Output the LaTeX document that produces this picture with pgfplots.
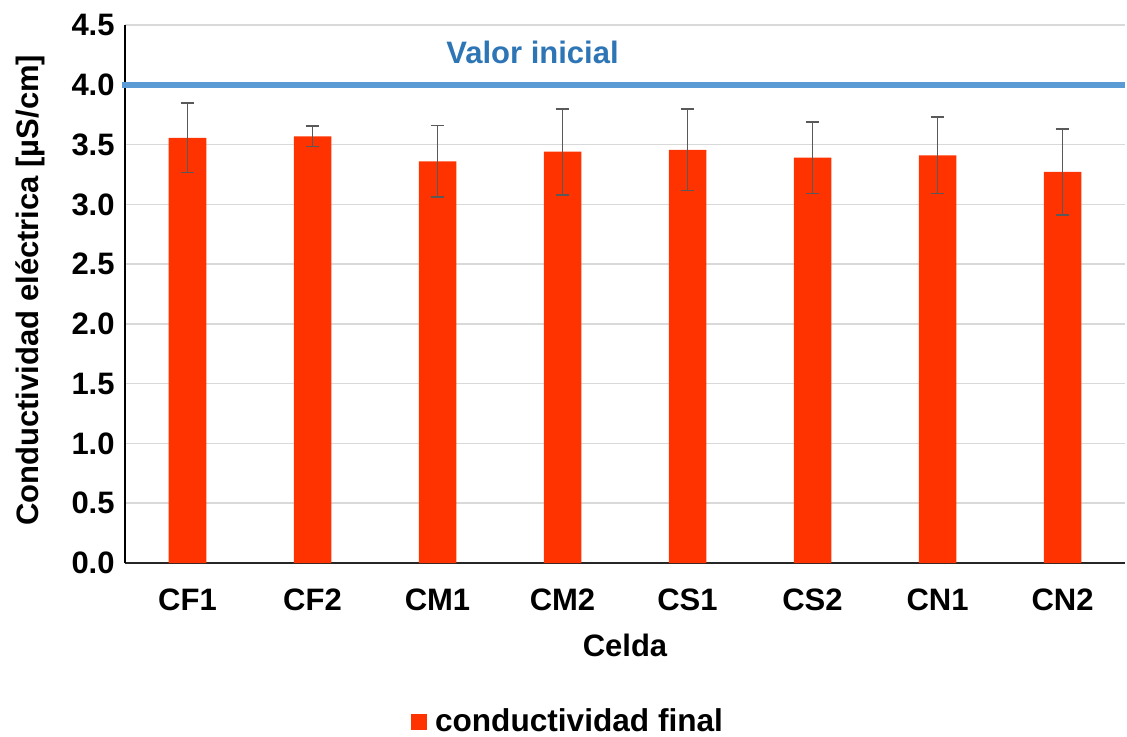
\documentclass[border=0pt]{standalone}
\usepackage{pgfplots}
\pgfplotsset{compat=1.18}
\usepackage{fontspec}
\setmainfont{Liberation Sans}
\definecolor{barred}{RGB}{255,51,0}
\definecolor{lineblue}{RGB}{91,155,213}
\definecolor{textblue}{RGB}{46,117,182}
\definecolor{gridgray}{RGB}{217,217,217}
\definecolor{errgray}{RGB}{89,89,89}
\newcommand{\chartfont}{\bfseries\fontsize{15.5}{18}\selectfont}
\pgfplotstableread{
x y err
0 3.556 0.29
1 3.569 0.084
2 3.36 0.30
3 3.44 0.36
4 3.456 0.34
5 3.39 0.30
6 3.41 0.32
7 3.272 0.36
}\datatable
\begin{document}
\begin{tikzpicture}
\path[use as bounding box] (-62.5pt,-86.5pt) rectangle (501pt,281.5pt);
\begin{axis}[
  at={(0,0)}, anchor=south west,
  scale only axis, width=500pt, height=269pt,
  xmin=-0.5, xmax=7.5, ymin=0, ymax=4.5,
  xtick={0,1,2,3,4,5,6,7},
  xticklabels={CF1,CF2,CM1,CM2,CS1,CS2,CN1,CN2},
  ytick={0,0.5,1,1.5,2,2.5,3,3.5,4,4.5},
  /pgf/number format/assume math mode=true,
  yticklabel style={/pgf/number format/fixed, /pgf/number format/fixed zerofill, /pgf/number format/precision=1, anchor=east, inner sep=0pt, xshift=-5pt},
  ticklabel style={font=\chartfont},
  xticklabel style={anchor=center, yshift=-18.5pt},
  major tick length=0pt,
  axis x line*=bottom, axis y line*=left,
  x axis line style={line width=0.9pt, color=black!85},
  y axis line style={line width=0.8pt, color=black},
  ymajorgrids, grid style={line width=0.75pt, color=gridgray},
  xlabel={Celda},
  xlabel style={font=\chartfont, at={(axis description cs:0.5,-0.154)}, anchor=center},
  ylabel={Conductividad eléctrica [µS/cm]},
  ylabel style={font=\chartfont, at={(axis description cs:-0.095,0.507)}, anchor=center},
  legend style={at={(axis description cs:0.444,-0.2955)}, anchor=center, draw=none, fill=none, font=\bfseries\fontsize{15.8}{18}\selectfont, inner sep=0pt},
  legend cell align=left,
  clip=false,
]
\addplot[ybar, bar width=0.3, fill=barred, draw=none,
  legend image code/.code={\fill[barred] (0pt,-4pt) rectangle (8pt,4pt); \path (10pt,0pt);},
  error bars/.cd, y dir=both, y explicit,
  error bar style={line width=0.75pt, color=errgray},
  error mark=-,
  error mark options={rotate=90, mark size=3.4pt, line width=0.8pt, color=errgray},
  ] table[x=x, y=y, y error=err] {\datatable};
\addlegendentry{conductividad final}
\addplot[sharp plot, line width=2.75pt, color=lineblue, forget plot] coordinates {(-0.52,4) (7.5,4)};
\node[font=\chartfont, text=textblue, anchor=center] at (axis cs:2.76,4.27) {Valor inicial};
\end{axis}
\end{tikzpicture}
\end{document}
